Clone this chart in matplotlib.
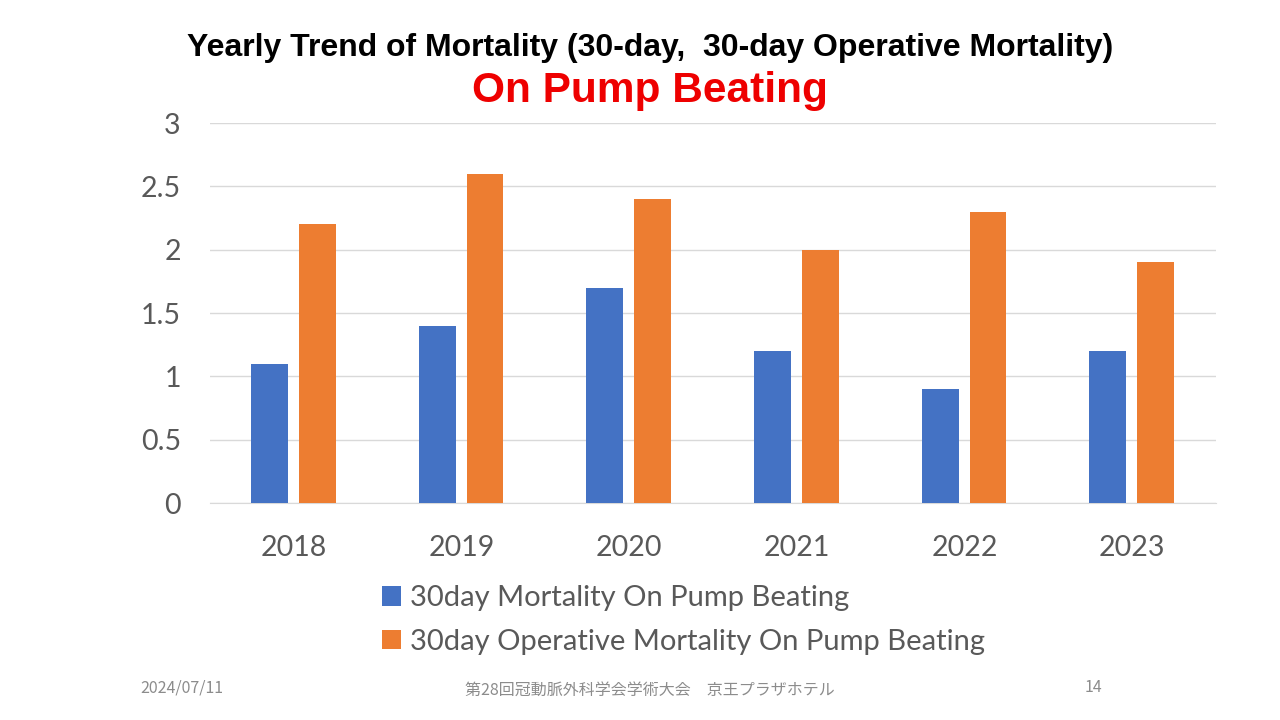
import matplotlib
matplotlib.use("Agg")
import matplotlib.pyplot as plt
import numpy as np

years = ["2018", "2019", "2020", "2021", "2022", "2023"]
mort30 = [1.1, 1.4, 1.7, 1.2, 0.9, 1.2]
oper30 = [2.2, 2.6, 2.4, 2.0, 2.3, 1.9]
series_labels = ["30day Mortality On Pump Beating",
                 "30day Operative Mortality On Pump Beating"]
yticks = [0, 0.5, 1, 1.5, 2, 2.5, 3]
ytick_labels = ["0", "0.5", "1", "1.5", "2", "2.5", "3"]

BLUE = "#4472C4"
ORANGE = "#ED7D31"
GRAY = "#595959"

fig = plt.figure(figsize=(12.8, 7.2), dpi=100)
ax = fig.add_axes([210/1280, 1-503/720, (1216-210)/1280, (503-123)/720])

x = np.arange(len(years)) + 0.5
w = 0.22
b1 = ax.bar(x - 0.145, mort30, w, color=BLUE, label=series_labels[0], zorder=3)
b2 = ax.bar(x + 0.14, oper30, w, color=ORANGE, label=series_labels[1], zorder=3)

ax.set_xlim(0, len(years))
ax.set_ylim(0, 3)
ax.set_yticks(yticks)
ax.set_yticklabels(ytick_labels)
ax.set_xticks(x)
ax.set_xticklabels(years)
ax.grid(axis="y", color="#D9D9D9", linewidth=1, zorder=0)
for s in ["top", "right", "left"]:
    ax.spines[s].set_visible(False)
ax.spines["bottom"].set_color("#D9D9D9")
ax.tick_params(axis="both", length=0, labelsize=20.5, labelcolor=GRAY)
ax.tick_params(axis="y", pad=21)
ax.tick_params(axis="x", pad=23)
for lab in ax.get_xticklabels() + ax.get_yticklabels():
    lab.set_family("Lato")

leg = fig.legend(handles=[b1, b2], loc="upper left",
                 bbox_to_anchor=(356/1280, 1-559/720),
                 frameon=False, handlelength=0.65, handleheight=0.65,
                 handletextpad=0.3, labelspacing=0.6,
                 prop={"family": "Lato", "size": 21})
for t in leg.get_texts():
    t.set_color(GRAY)

fig.text(650/1280, 1-48/720,
         "Yearly Trend of Mortality (30-day,  30-day Operative Mortality)",
         ha="center", va="center", fontsize=23, fontweight="bold",
         family="Liberation Sans", color="black")
fig.text(650/1280, 1-91/720, "On Pump Beating", ha="center", va="center",
         fontsize=30.5, fontweight="bold", family="Liberation Sans", color="#EE0000")

fig.text(140/1280, 1-688/720, "2024/07/11", ha="left", va="center",
         fontsize=11.5, color="#8C8C8C", family=["Noto Sans CJK JP", "DejaVu Sans"])
fig.text(650/1280, 1-690/720, "第28回冠動脈外科学会学術大会　京王プラザホテル",
         ha="center", va="center", fontsize=11.5, color="#8C8C8C",
         family=["Noto Sans CJK JP", "DejaVu Sans"])
fig.text(1093/1280, 1-688/720, "14", ha="center", va="center",
         fontsize=11.5, color="#8C8C8C", family=["Noto Sans CJK JP", "DejaVu Sans"])

fig.savefig("out.png", dpi=100)
